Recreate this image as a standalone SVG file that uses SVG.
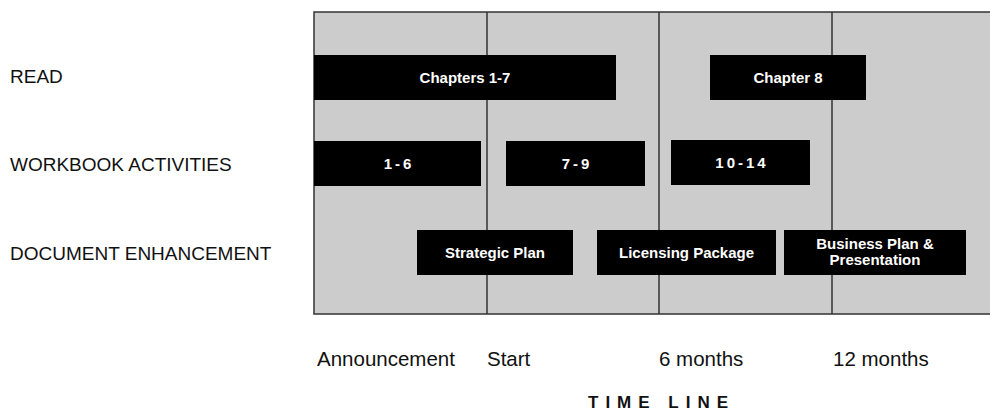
<svg xmlns="http://www.w3.org/2000/svg" width="990" height="412" viewBox="0 0 990 412">
  <style>
    .row { font-family: "Liberation Sans", Arial, sans-serif; font-size: 19px; fill: #111; }
    .tick { font-family: "Liberation Sans", Arial, sans-serif; font-size: 20.5px; fill: #111; }
    .bar { fill: #000; }
    .lbl { font-family: "Liberation Sans", Arial, sans-serif; font-size: 15px; font-weight: bold; fill: #fff; text-anchor: middle; }
    .num { letter-spacing: 3px; }
    .grid { stroke: #333; stroke-width: 1.5; fill: none; }
    .title { font-family: "Liberation Sans", Arial, sans-serif; font-size: 17px; font-weight: bold; fill: #111; letter-spacing: 7px; }
  </style>

  <g id="chart-background">
    <rect x="314" y="12" width="700" height="302" fill="#cccccc" stroke="#333" stroke-width="1.5"/>
  </g>

  <g id="gridlines">
    <line class="grid" x1="487" y1="12" x2="487" y2="314"/>
    <line class="grid" x1="659" y1="12" x2="659" y2="314"/>
    <line class="grid" x1="832" y1="12" x2="832" y2="314"/>
  </g>

  <g id="row-labels">
    <text class="row" x="10" y="83">READ</text>
    <text class="row" x="10" y="171">WORKBOOK ACTIVITIES</text>
    <text class="row" x="10" y="260">DOCUMENT ENHANCEMENT</text>
  </g>

  <g id="bar-chapters-1-7">
    <rect class="bar" x="314" y="55" width="302" height="45"/>
    <text class="lbl" x="465" y="82.5">Chapters 1-7</text>
  </g>
  <g id="bar-chapter-8">
    <rect class="bar" x="710" y="55" width="156" height="45"/>
    <text class="lbl" x="788" y="82.5">Chapter 8</text>
  </g>

  <g id="bar-wb-1-6">
    <rect class="bar" x="314" y="141" width="167" height="45"/>
    <text class="lbl num" x="399" y="168.5">1-6</text>
  </g>
  <g id="bar-wb-7-9">
    <rect class="bar" x="506" y="141" width="139" height="45"/>
    <text class="lbl num" x="577" y="168.5">7-9</text>
  </g>
  <g id="bar-wb-10-14">
    <rect class="bar" x="671" y="140" width="139" height="45"/>
    <text class="lbl num" x="742" y="167.5">10-14</text>
  </g>

  <g id="bar-strategic-plan">
    <rect class="bar" x="417" y="230" width="156" height="45"/>
    <text class="lbl" x="495" y="257.5">Strategic Plan</text>
  </g>
  <g id="bar-licensing-package">
    <rect class="bar" x="597" y="230" width="179" height="45"/>
    <text class="lbl" x="686.5" y="257.5">Licensing Package</text>
  </g>
  <g id="bar-business-plan">
    <rect class="bar" x="784" y="230" width="182" height="45"/>
    <text class="lbl" x="875" y="249">Business Plan &amp;</text>
    <text class="lbl" x="875" y="265">Presentation</text>
  </g>

  <g id="timeline-labels">
    <text class="tick" x="317" y="366">Announcement</text>
    <text class="tick" x="487" y="366">Start</text>
    <text class="tick" x="659" y="366">6 months</text>
    <text class="tick" x="833" y="366">12 months</text>
    <text class="title" x="588" y="408">TIME LINE</text>
  </g>
</svg>
